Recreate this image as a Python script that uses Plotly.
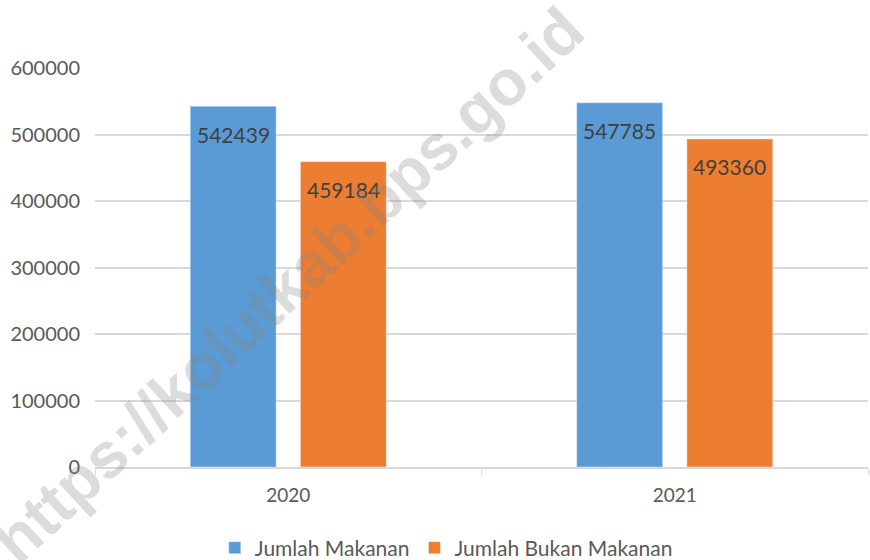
import plotly.graph_objects as go

years = ["2020", "2021"]
makanan = [542439, 547785]
bukan_makanan = [459184, 493360]
y_ticks = [0, 100000, 200000, 300000, 400000, 500000, 600000]

font_family = "Lato, 'Open Sans', sans-serif"

fig = go.Figure()
fig.add_trace(go.Bar(
    x=years, y=makanan, name="Jumlah Makanan",
    marker=dict(color="#5B9BD5"),
))
fig.add_trace(go.Bar(
    x=years, y=bukan_makanan, name="Jumlah Bukan Makanan",
    marker=dict(color="#ED7D31"),
))

# value labels inside the top of each bar (x = category serial number)
for series, shift in ((makanan, -55), (bukan_makanan, 55)):
    for i, v in enumerate(series):
        fig.add_annotation(
            x=i, y=v, xref="x", yref="y", text=str(v), showarrow=False,
            xshift=shift, yshift=-28, yanchor="middle", xanchor="center",
            font=dict(size=21, color="#404040", family=font_family),
        )

fig.update_layout(
    width=870, height=560,
    margin=dict(l=95, r=2, t=68, b=93, autoexpand=False),
    paper_bgcolor="white", plot_bgcolor="white",
    barmode="group", bargap=0.43, bargroupgap=0.22,
    font=dict(family=font_family, color="#595959", size=19),
    showlegend=True,
    legend=dict(orientation="h", x=0.155, xanchor="left", y=-0.203, yanchor="middle",
                font=dict(size=21, color="#595959"), itemwidth=30),
    xaxis=dict(type="category", range=[-0.5, len(years) - 0.5],
               showline=True, linecolor="#D9D9D9", linewidth=1.5,
               ticks="outside", tickson="boundaries", tickcolor="#D9D9D9", ticklen=6,
               tickfont=dict(size=19, color="#595959"), showgrid=False, tickangle=0,
               ticklabelstandoff=10),
    yaxis=dict(range=[0, 600000], tickvals=y_ticks, ticktext=[str(v) for v in y_ticks],
               showgrid=True, gridcolor="#D9D9D9", gridwidth=1.5, zeroline=False,
               tickfont=dict(size=20, color="#595959"), ticks="", ticklabelstandoff=14),
)

fig.add_annotation(
    text="https://kolutkab.bps.go.id", xref="paper", yref="paper",
    x=0.25, y=0.456, xanchor="center", yanchor="middle",
    showarrow=False, textangle=-43,
    font=dict(size=64, color="rgba(128,128,128,0.28)", family="Liberation Sans, Arial, sans-serif", weight="bold"),
)

fig.write_html("out.html", config={"displayModeBar": False},
               post_script="document.body.style.margin='0';document.body.style.padding='0';")
